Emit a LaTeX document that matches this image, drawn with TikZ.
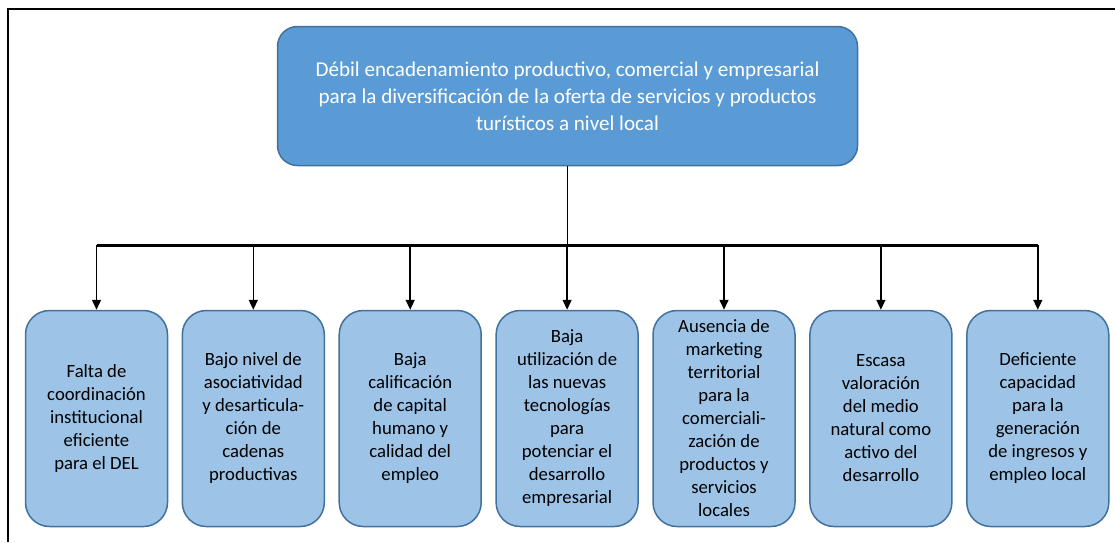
\documentclass[tikz,border=0pt]{standalone}
\usepackage{fontspec}
\setmainfont{Carlito}
\usetikzlibrary{arrows.meta}
\definecolor{topfill}{RGB}{91,155,213}
\definecolor{subfill}{RGB}{157,195,230}
\definecolor{boxline}{RGB}{65,113,156}
\tikzset{
  problem/.style={draw=boxline, line width=1.5pt, fill=topfill, rounded corners=20pt,
    minimum width=580pt, minimum height=139pt, inner sep=0pt, align=center,
    text=white, font=\fontsize{21.1}{27}\selectfont},
  cause/.style={draw=boxline, line width=1.5pt, fill=subfill, rounded corners=24pt,
    minimum width=142pt, minimum height=216pt, inner sep=0pt, align=center,
    font=\fontsize{18.7}{23}\selectfont},
  link/.style={line width=1.5pt, -{Triangle[width=9pt,length=10pt]}}
}
\begin{document}
\begin{tikzpicture}[x=1pt, y=-1pt]
    \useasboundingbox (0,0) rectangle (1115,542);
    \draw[line width=2pt] (8,542) -- (8,9) -- (1115,9);
    \node[problem] (top) at (567.5,96) {Débil encadenamiento productivo, comercial y empresarial\\
        para la diversificación de la oferta de servicios y productos\\ turísticos a nivel local};
    \node[cause] (c1) at (96.5,418.5) {Falta de\\ coordinación\\ institucional\\ eficiente\\ para el DEL};
    \node[cause] (c2) at (253.3,418.5) {Bajo nivel de\\ asociatividad\\ y desarticula-\\ ción de\\ cadenas\\ productivas};
    \node[cause] (c3) at (410.2,418.5) {Baja\\ calificación\\ de capital\\ humano y\\ calidad del\\ empleo};
    \node[cause] (c4) at (567.1,418.5) {Baja\\ utilización de\\ las nuevas\\ tecnologías\\ para\\ potenciar el\\ desarrollo\\ empresarial};
    \node[cause] (c5) at (724,418.5) {Ausencia de\\ marketing\\ territorial\\ para la\\ comerciali-\\ zación de\\ productos y\\ servicios\\ locales};
    \node[cause] (c6) at (880.9,418.5) {Escasa\\ valoración\\ del medio\\ natural como\\ activo del\\ desarrollo};
    \node[cause] (c7) at (1037.8,418.5) {Deficiente\\ capacidad\\ para la\\ generación\\ de ingresos y\\ empleo local};
    \coordinate (busL) at (96.5,245);
    \coordinate (busR) at (1037.8,245);
    \draw[line width=3pt] (busL) -- (busR);
    \draw[line width=1.5pt] (top.south) -- (top.south |- busL);
    \draw[link] (c1.north |- busL) -- (c1.north);
    \draw[link] (c2.north |- busL) -- (c2.north);
    \draw[link] (c3.north |- busL) -- (c3.north);
    \draw[link] (c4.north |- busL) -- (c4.north);
    \draw[link] (c5.north |- busL) -- (c5.north);
    \draw[link] (c6.north |- busL) -- (c6.north);
    \draw[link] (c7.north |- busL) -- (c7.north);
\end{tikzpicture}
\end{document}
